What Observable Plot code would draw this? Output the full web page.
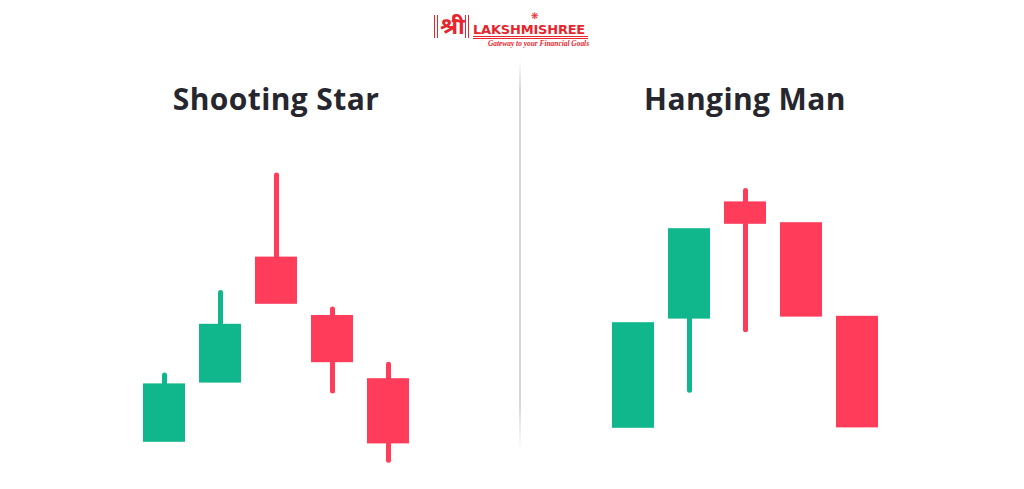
<!DOCTYPE html>
<html>
<head>
<meta charset="utf-8">
<script src="https://cdn.jsdelivr.net/npm/d3@7"></script>
<script src="https://cdn.jsdelivr.net/npm/@observablehq/plot@0.6"></script>
<style>
  html, body { margin: 0; padding: 0; background: #fff; }
  body { width: 1024px; height: 489px; position: relative; overflow: hidden; font-family: "Open Sans", sans-serif; }
  #logo { position: absolute; left: 0; top: 0; width: 1024px; height: 56px; color: #e5262d; }
  #logo .bar { position: absolute; top: 15px; width: 2px; height: 23px; border-left: 1.5px solid #e5262d; border-right: 1.5px solid #e5262d; }
  #chart { position: absolute; left: 0; top: 56px; }
  #chart text { letter-spacing: 0.4px; }
  #divider { position: absolute; left: 519px; top: 60px; width: 2px; height: 390px;
    background: linear-gradient(#ffffff, #d6d6d6 8%, #d6d6d6 88%, #ffffff); }
</style>
</head>
<body>
<div id="logo">
  <div class="bar" style="left:434px"></div>
  <div style="position:absolute;left:440px;top:9px;font:bold 23px 'Noto Sans', 'DejaVu Sans', sans-serif;">श्री</div>
  <div class="bar" style="left:465px"></div>
  <div style="position:absolute;left:531px;top:11px;font:9px 'DejaVu Sans', sans-serif;">❋</div>
  <div style="position:absolute;left:473px;top:22px;font:bold 13px 'DejaVu Sans', sans-serif;letter-spacing:-0.2px;">LAKSHMISHREE</div>
  <div style="position:absolute;left:473px;top:36px;width:115px;height:1px;border-top:1px solid #e5262d;border-bottom:1px solid #e5262d;"></div>
  <div style="position:absolute;left:488px;top:39px;font:italic bold 7.4px 'Liberation Serif', serif;white-space:nowrap;">Gateway to your Financial Goals</div>
</div>
<div id="chart"></div>
<div id="divider"></div>
<script>
// Pattern names (facets / titles) and candle index
const patterns = ["Shooting Star", "Hanging Man"];
const candleIndex = [1, 2, 3, 4, 5];

// Shooting Star candles
const ssOpen  = [11.8, 26.6, 58.1, 43.5, 27.7];
const ssClose = [26.4, 41.3, 46.3, 31.7, 11.4];
const ssHigh  = [28.5, 49.1, 78.5, 45.0, 31.2];
const ssLow   = [11.8, 26.6, 46.3, 24.5, 7.2];

// Hanging Man candles
const hmOpen  = [15.3, 42.6, 71.9, 66.7, 43.3];
const hmClose = [41.7, 65.2, 66.3, 43.1, 15.4];
const hmHigh  = [41.7, 65.2, 74.6, 66.7, 43.3];
const hmLow   = [15.3, 24.7, 39.8, 43.1, 15.4];

const GREEN = "#10b68c";
const RED = "#ff3d5b";

const series = [
  {open: ssOpen, close: ssClose, high: ssHigh, low: ssLow},
  {open: hmOpen, close: hmClose, high: hmHigh, low: hmLow}
];
const rows = [];
patterns.forEach((p, k) => {
  const s = series[k];
  candleIndex.forEach((i, j) => rows.push({
    pattern: p, i, open: s.open[j], close: s.close[j], high: s.high[j], low: s.low[j]
  }));
});
const colorOf = d => d.close >= d.open ? GREEN : RED;
const bodyTop = d => Math.max(d.open, d.close);
const bodyBot = d => Math.min(d.open, d.close);

const chart = Plot.plot({
  width: 1024,
  height: 433,
  marginLeft: 125,
  marginRight: 129,
  marginTop: 6,
  marginBottom: 42,
  fx: {domain: patterns, paddingInner: 0.3617, paddingOuter: 0, axis: null},
  x: {domain: candleIndex, paddingInner: 0.258, paddingOuter: 0.279, axis: null},
  y: {domain: [10.5, 106.75], axis: null},
  color: {type: "identity"},
  marks: [
    Plot.ruleX(rows.filter(d => d.high > bodyTop(d)), {
      fx: "pattern", x: "i", y1: bodyTop, y2: "high",
      stroke: colorOf, strokeWidth: 5, strokeLinecap: "round"
    }),
    Plot.ruleX(rows.filter(d => d.low < bodyBot(d)), {
      fx: "pattern", x: "i", y1: "low", y2: bodyBot,
      stroke: colorOf, strokeWidth: 5, strokeLinecap: "round"
    }),
    Plot.barY(rows, {fx: "pattern", x: "i", y1: "open", y2: "close", fill: colorOf}),
    Plot.text(patterns, {
      fx: d => d, text: d => d, frameAnchor: "top", lineAnchor: "bottom", dy: 47,
      fontSize: 30, fontWeight: 700, fontFamily: "Open Sans", fill: "#26262e"
    })
  ]
});
document.getElementById("chart").appendChild(chart);
</script>
</body>
</html>
